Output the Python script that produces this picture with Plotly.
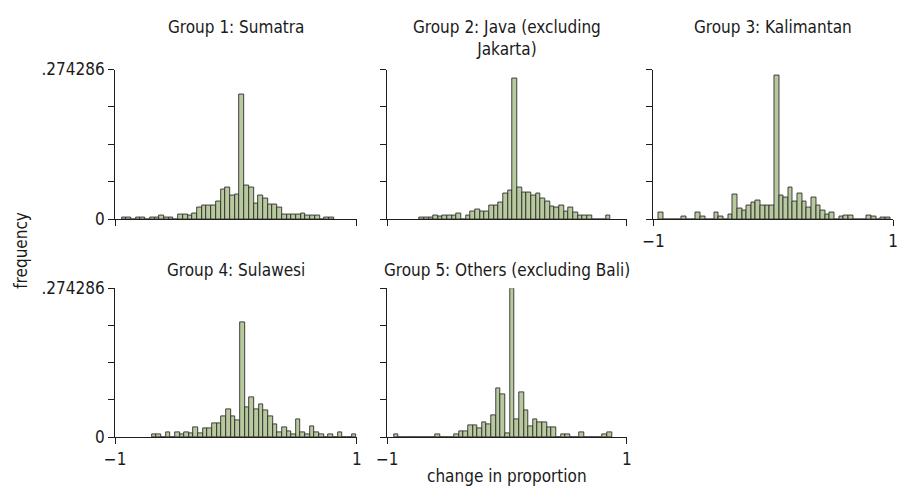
import plotly.graph_objects as go

# Shared y-axis maximum (largest bin fraction across all groups)
YMAX = 0.274286

titles = [
    "Group 1: Sumatra",
    "Group 2: Java (excluding<br>Jakarta)",
    "Group 3: Kalimantan",
    "Group 4: Sulawesi",
    "Group 5: Others (excluding Bali)",
]

# Left edge of the first bin and bin width for each group's histogram
bin_start = [-0.945, -0.7315, -0.9557, -0.697, -0.944]
bin_width = [0.039, 0.0389, 0.0386, 0.0385, 0.0387]

# Fraction of observations in each bin
freq_sumatra = [
    0.0041, 0.0041, 0, 0.0041, 0.0041, 0, 0.0041, 0.0041, 0.0071, 0.0041,
    0.0041, 0, 0.0094, 0.0094, 0.0065, 0.0106, 0.0212, 0.0254, 0.0254, 0.0254,
    0.0324, 0.0543, 0.0590, 0.0431, 0.0454, 0.2277, 0.0613, 0.0590, 0.0289, 0.0431,
    0.0372, 0.0265, 0.0265, 0.0212, 0.0088, 0.0088, 0.0088, 0.0088, 0.0112, 0.0065,
    0.0065, 0.0065, 0, 0.0041, 0.0041,
]
freq_java = [
    0.0041, 0.0041, 0.0041, 0.0065, 0.0059, 0.0071, 0.0071, 0.0071, 0.0112, 0,
    0.0071, 0.0142, 0.0183, 0.0142, 0.0142, 0.0248, 0.0248, 0.0301, 0.0478, 0.0519,
    0.2572, 0.0590, 0.0490, 0.0490, 0.0431, 0.0466, 0.0378, 0.0324, 0.0242, 0.0212,
    0.0254, 0.0142, 0.0212, 0.0130, 0.0071, 0.0071, 0.0071, 0, 0, 0,
    0.0071,
]
freq_kalimantan = [
    0.0130, 0, 0, 0, 0, 0.0047, 0, 0, 0.0130, 0.0047,
    0, 0, 0.0130, 0.0047, 0, 0.0088, 0.0448, 0.0201, 0.0165, 0.0254,
    0.0307, 0.0342, 0.0254, 0.0254, 0.0254, 0.2631, 0.0442, 0.0401, 0.0590, 0.0330,
    0.0466, 0.0330, 0.0212, 0.0395, 0.0254, 0.0159, 0.0088, 0.0124, 0, 0.0047,
    0.0071, 0.0071, 0, 0, 0, 0.0071, 0.0047, 0, 0.0041, 0.0041,
]
freq_sulawesi = [
    0.0047, 0.0047, 0, 0.0088, 0, 0.0088, 0.0047, 0.0088, 0.0064, 0.0182,
    0.0076, 0.0164, 0.0164, 0.0258, 0.0258, 0.0381, 0.0510, 0.0387, 0.0305, 0.2110,
    0.0557, 0.0738, 0.0510, 0.0609, 0.0492, 0.0381, 0.0240, 0.0094, 0.0188, 0.0111,
    0.0053, 0.0322, 0.0088, 0.0053, 0.0205, 0.0088, 0.0047, 0, 0.0047, 0,
    0.0082, 0, 0, 0.0047,
]
freq_others = [
    0.0059, 0, 0, 0, 0, 0, 0, 0, 0, 0.0059,
    0, 0, 0, 0.0059, 0.0100, 0.0100, 0.0218, 0.0218, 0.0171, 0.0265,
    0.0230, 0.0401, 0.0902, 0.0785, 0.0065, 0.274286, 0.0324, 0.0826, 0.0490, 0.0195,
    0.0336, 0.0265, 0.0265, 0.0177, 0.0177, 0, 0.0059, 0.0059, 0, 0,
    0.0088, 0, 0, 0, 0, 0.0059, 0.0088,
]

freqs = [freq_sumatra, freq_java, freq_kalimantan, freq_sulawesi, freq_others]

x_ticks = [-1, 1]
x_ticktext = ["\u22121", "1"]
y_ticks = [0, YMAX / 4, YMAX / 2, 3 * YMAX / 4, YMAX]
y_ticktext = ["0", "", "", "", f"{YMAX:.6f}".lstrip("0")]

W, H = 905, 498
FONT = "Liberation Sans Narrow, Arial Narrow, DejaVu Sans Condensed, sans-serif"
BAR_FILL = "rgb(184,201,158)"
BAR_LINE = "#2e2e2e"
AXIS = "#1e1e1e"

# Panel boxes in pixels: (left, right) columns and (top, bottom) rows
cols = [(106, 352), (383, 627), (654, 898)]
rows = [(62, 218), (290, 445)]
cells = [(0, 0), (0, 1), (0, 2), (1, 0), (1, 1)]


def px_x(v):
    return v / W


def px_y(v):
    return 1 - v / H


fig = go.Figure()
layout = dict(
    width=W, height=H,
    margin=dict(l=0, r=0, t=0, b=0),
    paper_bgcolor="white", plot_bgcolor="white",
    showlegend=False, bargap=0,
    font=dict(family=FONT, size=17, color="#1a1a1a"),
)
annotations = []

for i, (freq, start, w) in enumerate(zip(freqs, bin_start, bin_width)):
    k = i + 1
    r, c = cells[i]
    (x0, x1), (y0, y1) = cols[c], rows[r]
    centers = [start + (j + 0.5) * w for j in range(len(freq))]
    fig.add_trace(go.Bar(
        x=centers, y=freq, width=w,
        marker=dict(color=BAR_FILL, line=dict(color=BAR_LINE, width=0.9)),
        xaxis=f"x{k}", yaxis=f"y{k}", hoverinfo="x+y",
    ))
    show_x = (r == 1) or (c == 2)
    show_y = (c == 0)
    layout[f"xaxis{k}"] = dict(
        domain=[px_x(x0), px_x(x1)], anchor=f"y{k}", range=[-1, 1],
        showline=True, linecolor=AXIS, linewidth=1.2,
        ticks="outside", ticklen=6, tickwidth=1.2, tickcolor=AXIS,
        tickvals=x_ticks, ticktext=x_ticktext, showticklabels=show_x,
        showgrid=False, zeroline=False, tickfont=dict(size=17),
    )
    layout[f"yaxis{k}"] = dict(
        domain=[px_y(y1), px_y(y0)], anchor=f"x{k}", range=[0, YMAX],
        showline=True, linecolor=AXIS, linewidth=1.2,
        ticks="outside", ticklen=6, tickwidth=1.2, tickcolor=AXIS,
        tickvals=y_ticks, ticktext=y_ticktext, showticklabels=show_y,
        showgrid=False, zeroline=False, tickfont=dict(size=17),
    )
    title_top = 5 if r == 0 else 258
    annotations.append(dict(
        text=titles[i], xref="paper", yref="paper",
        x=px_x((x0 + x1) / 2), y=px_y(title_top),
        xanchor="center", yanchor="top", showarrow=False,
        font=dict(size=17),
    ))

annotations.append(dict(
    text="frequency", xref="paper", yref="paper",
    x=px_x(10), y=px_y(250), textangle=-90,
    xanchor="center", yanchor="middle", showarrow=False, font=dict(size=17),
))
annotations.append(dict(
    text="change in proportion", xref="paper", yref="paper",
    x=px_x(505), y=px_y(485),
    xanchor="center", yanchor="middle", showarrow=False, font=dict(size=17),
))
layout["annotations"] = annotations
fig.update_layout(**layout)
fig.write_html("out.html")
